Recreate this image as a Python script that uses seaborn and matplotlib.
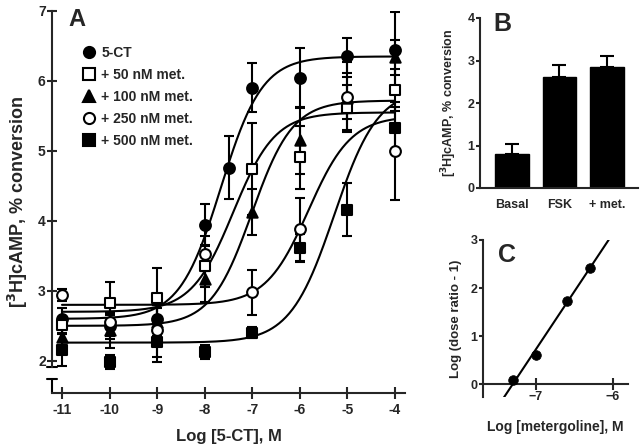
import numpy as np
import pandas as pd
import matplotlib
matplotlib.use("Agg")
import matplotlib.pyplot as plt
from matplotlib.lines import Line2D
import seaborn as sns

# ---------------- data ----------------
# Panel A: log [5-CT] concentrations
x_5ct = [-11, -10, -9, -8, -7.5, -7, -6, -5, -4]
y_5ct = [2.60, 2.50, 2.60, 3.94, 4.76, 5.90, 6.04, 6.36, 6.44]
e_5ct = [0.15, 0.15, 0.20, 0.30, 0.45, 0.35, 0.43, 0.25, 0.54]

x_met = [-11, -10, -9, -8, -7, -6, -5, -4]
y_50 = [2.51, 2.83, 2.90, 3.36, 4.74, 4.91, 5.62, 5.87]
e_50 = [0.12, 0.30, 0.43, 0.30, 0.66, 0.45, 0.32, 0.30]
y_100 = [2.34, 2.44, 2.55, 3.17, 4.13, 5.15, 5.75, 6.34]
e_100 = [0.15, 0.25, 0.20, 0.33, 0.33, 0.48, 0.30, 0.25]
y_250 = [2.94, 2.56, 2.44, 3.53, 2.98, 3.88, 5.77, 5.00]
e_250 = [0.08, 0.25, 0.45, 0.25, 0.32, 0.45, 0.50, 0.70]
y_500 = [2.16, 1.99, 2.27, 2.13, 2.40, 3.61, 4.16, 5.33]
e_500 = [0.24, 0.10, 0.22, 0.10, 0.08, 0.20, 0.38, 0.30]

series_labels = ["5-CT", "+ 50 nM met.", "+ 100 nM met.", "+ 250 nM met.", "+ 500 nM met."]

# fitted sigmoid parameters (bottom, top, logEC50, hill)
fit_bottom = [2.60, 2.70, 2.50, 2.80, 2.26]
fit_top = [6.35, 5.55, 5.72, 5.50, 5.90]
fit_logec50 = [-7.66, -7.40, -7.01, -5.82, -5.28]
fit_hill = [1.00, 0.99, 1.01, 0.97, 0.94]

# Panel B
b_cats = ["Basal", "FSK", "+ met."]
b_vals = [0.80, 2.61, 2.85]
b_errs = [0.24, 0.29, 0.26]

# Panel C
c_x = [-7.3, -7.0, -6.6, -6.3]
c_y = [0.08, 0.60, 1.72, 2.42]

# ---------------- style ----------------
sns.set_style("ticks")
plt.rcParams["font.family"] = ["Liberation Sans", "DejaVu Sans"]
plt.rcParams["font.weight"] = "bold"
plt.rcParams["axes.labelweight"] = "bold"
plt.rcParams["axes.linewidth"] = 1.5

W, H = 640, 446
fig = plt.figure(figsize=(6.4, 4.46), dpi=100)


def frac(l, t, r, b):
    return [l / W, 1 - b / H, (r - l) / W, (b - t) / H]


lw = 1.5

# ---------------- Panel A ----------------
axA = fig.add_axes(frac(52, 11, 405, 393))
xs = np.linspace(-11, -4, 300)
curve_rows = []
for i, lab in enumerate(series_labels):
    yy = fit_bottom[i] + (fit_top[i] - fit_bottom[i]) / (1 + 10 ** ((fit_logec50[i] - xs) * fit_hill[i]))
    curve_rows.append(pd.DataFrame({"x": xs, "y": yy, "s": lab}))
curves = pd.concat(curve_rows)
sns.lineplot(data=curves, x="x", y="y", units="s", estimator=None, color="black",
             lw=lw, ax=axA, legend=False)

pts = [
    (x_5ct, y_5ct, e_5ct, "o", "black"),
    (x_met, y_50, e_50, "s", "white"),
    (x_met, y_100, e_100, "^", "black"),
    (x_met, y_250, e_250, "o", "white"),
    (x_met, y_500, e_500, "s", "black"),
]
for (xx, yy, ee, m, fc) in pts:
    axA.errorbar(xx, yy, yerr=ee, fmt="none", ecolor="black", elinewidth=lw,
                 capsize=3.5, capthick=lw, zorder=3)
for (xx, yy, ee, m, fc) in pts:
    sns.scatterplot(x=xx, y=yy, marker=m, s=60 if m != "^" else 55, color=fc,
                    edgecolor="black", linewidth=1.5, ax=axA, zorder=4, legend=False)

axA.set_xlim(-11.21, -3.79)
axA.set_ylim(1.54, 7.0)
axA.set_xticks(range(-11, -3))
axA.set_xticklabels([str(v) for v in range(-11, -3)])
axA.set_yticks(range(2, 8))
axA.tick_params(axis="x", direction="inout", length=8, width=lw, labelsize=10, pad=3)
axA.tick_params(axis="y", direction="inout", length=7, width=lw, labelsize=10, pad=1)
for lab in axA.get_xticklabels() + axA.get_yticklabels():
    lab.set_fontweight("bold")
sns.despine(ax=axA)
axA.spines["left"].set_bounds(1.91, 7.0)
# axis break marks
axA.plot([-11.32, -11.10], [1.91, 1.91], color="black", lw=lw, clip_on=False)
axA.plot([-11.21, -11.21], [1.54, 1.74], color="black", lw=lw, clip_on=False)
axA.plot([-11.32, -11.10], [1.74, 1.74], color="black", lw=lw, clip_on=False)
axA.set_xlabel("Log [5-CT], M", fontsize=12, labelpad=9)
axA.set_ylabel("[$^3$H]cAMP, % conversion", fontsize=13, labelpad=6)

handles = [
    Line2D([], [], ls="none", marker="o", ms=8, mfc="black", mec="black", mew=1.5),
    Line2D([], [], ls="none", marker="s", ms=8, mfc="white", mec="black", mew=1.5),
    Line2D([], [], ls="none", marker="^", ms=8, mfc="black", mec="black", mew=1.5),
    Line2D([], [], ls="none", marker="o", ms=8, mfc="white", mec="black", mew=1.5),
    Line2D([], [], ls="none", marker="s", ms=8, mfc="black", mec="black", mew=1.5),
]
fig.legend(handles, series_labels, loc="upper left", bbox_to_anchor=(82 / W, 1 - 46 / H),
           frameon=False, handlelength=1.0, handletextpad=0.4, labelspacing=0.58,
           borderpad=0, borderaxespad=0, prop={"weight": "bold", "size": 10})
fig.text(68 / W, 1 - 26 / H, "A", fontsize=17, fontweight="bold", va="baseline")

# ---------------- Panel B ----------------
axB = fig.add_axes(frac(480, 18, 638, 188))
dfB = pd.DataFrame({"cat": b_cats, "val": b_vals})
sns.barplot(data=dfB, x="cat", y="val", color="black", width=0.7, ax=axB,
            edgecolor="black", saturation=1)
axB.errorbar(range(len(b_vals)), b_vals, yerr=[np.zeros(len(b_errs)), b_errs], fmt="none",
             ecolor="black", elinewidth=lw, capsize=5, capthick=lw)
axB.set_xlim(-0.67, 2.65)
axB.set_ylim(0, 4)
axB.set_yticks(range(0, 5))
axB.tick_params(axis="x", length=0, labelsize=9, pad=8)
axB.tick_params(axis="y", direction="out", length=3, width=lw, labelsize=9, pad=1)
for lab in axB.get_xticklabels() + axB.get_yticklabels():
    lab.set_fontweight("bold")
sns.despine(ax=axB)
axB.set_xlabel("")
axB.set_ylabel("[$^3$H]cAMP, % conversion", fontsize=9, labelpad=6)
fig.text(493 / W, 1 - 31 / H, "B", fontsize=18, fontweight="bold", va="baseline")

# ---------------- Panel C ----------------
axC = fig.add_axes(frac(483, 240, 628, 397))
sns.scatterplot(x=c_x, y=c_y, color="black", s=48, edgecolor="black", ax=axC, zorder=4)
slope, icpt = np.polyfit(c_x, c_y, 1)
lx = np.array([-7.43, -6.05])
sns.lineplot(x=lx, y=slope * lx + icpt, color="black", lw=lw, ax=axC)
axC.set_xlim(-7.69, -5.8)
axC.set_ylim(-0.27, 3.0)
axC.spines["bottom"].set_position(("data", 0))
axC.set_xticks([-7, -6])
axC.set_yticks([0, 1, 2, 3])
axC.tick_params(axis="x", direction="inout", length=8, width=lw, labelsize=9, pad=1)
axC.tick_params(axis="y", direction="out", length=3, width=lw, labelsize=9, pad=1)
for lab in axC.get_xticklabels() + axC.get_yticklabels():
    lab.set_fontweight("bold")
sns.despine(ax=axC)
axC.set_xlabel("Log [metergoline], M", fontsize=10, labelpad=12)
axC.set_ylabel("Log (dose ratio - 1)", fontsize=9.5, labelpad=6)
fig.text(498 / W, 1 - 262 / H, "C", fontsize=18, fontweight="bold", va="baseline")

fig.savefig("out.png", dpi=100)
